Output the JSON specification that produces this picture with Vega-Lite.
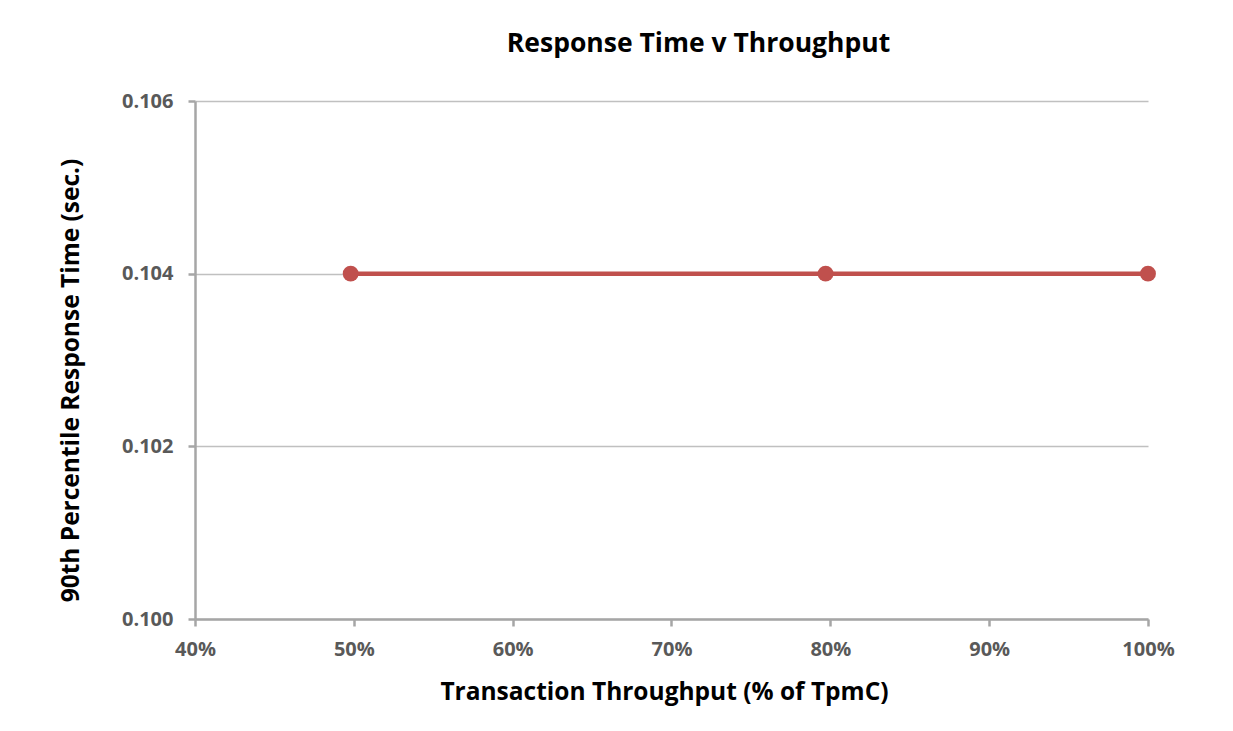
{
  "$schema": "https://vega.github.io/schema/vega-lite/v6.json",
  "autosize": "none",
  "width": 953,
  "height": 518,
  "padding": {"top": 101, "left": 195, "right": 85, "bottom": 112},
  "background": "white",
  "title": {
    "text": "Response Time v Throughput",
    "font": "Open Sans",
    "fontSize": 26.5,
    "fontWeight": "bold",
    "color": "#000000",
    "anchor": "middle",
    "dx": 27,
    "offset": 34
  },
  "data": {
    "values": [
      {"throughput": 0.498, "response": 0.104},
      {"throughput": 0.797, "response": 0.104},
      {"throughput": 1.0, "response": 0.104}
    ]
  },
  "config": {
    "view": {"stroke": null},
    "font": "Open Sans"
  },
  "layer": [
    {
      "mark": {"type": "line", "color": "#C0504D", "strokeWidth": 4.5},
      "encoding": {
        "x": {
          "field": "throughput",
          "type": "quantitative",
          "scale": {"domain": [0.4, 1.0], "nice": false, "zero": false},
          "axis": {
            "title": "Transaction Throughput (% of TpmC)",
            "values": [0.4, 0.5, 0.6, 0.7, 0.8, 0.9, 1.0],
            "format": ".0%",
            "grid": false,
            "domainColor": "#A6A6A6",
            "domainWidth": 2.5,
            "tickColor": "#A6A6A6",
            "tickWidth": 2.5,
            "tickSize": 7,
            "labelFont": "Open Sans",
            "labelFontSize": 20,
            "labelFontWeight": "bold",
            "labelColor": "#595959",
            "labelPadding": 13,
            "titleFont": "Open Sans",
            "titleFontSize": 24.5,
            "titleFontWeight": "bold",
            "titleColor": "#000000",
            "titlePadding": 21,
            "titleX": 469,
            "labelFlush": false
          }
        },
        "y": {
          "field": "response",
          "type": "quantitative",
          "scale": {"domain": [0.1, 0.106], "nice": false, "zero": false},
          "axis": {
            "title": "90th Percentile Response Time (sec.)",
            "values": [0.1, 0.102, 0.104, 0.106],
            "format": ".3f",
            "grid": true,
            "gridColor": "#C0C0C0",
            "gridWidth": 1.5,
            "domainColor": "#A6A6A6",
            "domainWidth": 2.5,
            "tickColor": "#A6A6A6",
            "tickWidth": 2.5,
            "tickSize": 7,
            "labelFont": "Open Sans",
            "labelFontSize": 20,
            "labelFontWeight": "bold",
            "labelColor": "#595959",
            "labelPadding": 15,
            "titleFont": "Open Sans",
            "titleFontSize": 24.5,
            "titleFontWeight": "bold",
            "titleColor": "#000000",
            "titlePadding": 38,
            "titleY": 279,
            "labelFlush": false
          }
        }
      }
    },
    {
      "mark": {"type": "point", "filled": true, "color": "#C0504D", "size": 250, "opacity": 1},
      "encoding": {
        "x": {"field": "throughput", "type": "quantitative"},
        "y": {"field": "response", "type": "quantitative"}
      }
    }
  ]
}
